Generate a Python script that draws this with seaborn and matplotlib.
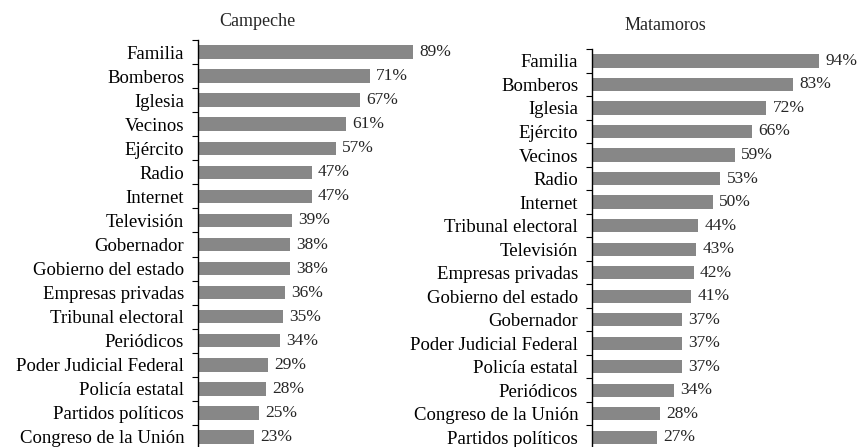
import pandas as pd
import numpy as np
import matplotlib.pyplot as plt
import seaborn as sns

# datos de confianza por ciudad
camp_labels = ['Familia', 'Bomberos', 'Iglesia', 'Vecinos', 'Ejército', 'Radio', 'Internet',
               'Televisión', 'Gobernador', 'Gobierno del estado', 'Empresas privadas',
               'Tribunal electoral', 'Periódicos', 'Poder Judicial Federal', 'Policía estatal',
               'Partidos políticos', 'Congreso de la Unión']
camp_values = [89, 71, 67, 61, 57, 47, 47, 39, 38, 38, 36, 35, 34, 29, 28, 25, 23]

mat_labels = ['Familia', 'Bomberos', 'Iglesia', 'Ejército', 'Vecinos', 'Radio', 'Internet',
              'Tribunal electoral', 'Televisión', 'Empresas privadas', 'Gobierno del estado',
              'Gobernador', 'Poder Judicial Federal', 'Policía estatal', 'Periódicos',
              'Congreso de la Unión', 'Partidos políticos']
mat_values = [94, 83, 72, 66, 59, 53, 50, 44, 43, 42, 41, 37, 37, 37, 34, 28, 27]

sns.set_style('white')
plt.rcParams['font.family'] = ['Liberation Serif', 'DejaVu Serif']

fig = plt.figure(figsize=(8.58, 4.47), dpi=100)
ax1 = fig.add_axes([0.2308, -0.0045, 0.282, 0.915])
ax2 = fig.add_axes([0.690, -0.0045, 0.282, 0.8945])

def draw(ax, labels, values):
    df = pd.DataFrame({'cat': labels, 'val': values})
    sns.barplot(data=df, x='val', y='cat', orient='h', color='#878787',
                saturation=1, width=0.56, linewidth=0, ax=ax)
    ax.set_xlim(0, 100)
    ax.set_ylim(len(labels) - 0.5, -0.5)
    ax.set_xlabel('')
    ax.set_ylabel('')
    ax.set_xticks([])
    for s in ['top', 'right', 'bottom']:
        ax.spines[s].set_visible(False)
    ax.spines['left'].set_color('black')
    ax.spines['left'].set_linewidth(1)
    ax.tick_params(axis='y', which='major', length=0, labelsize=13.5, pad=10, colors='black')
    ax.set_yticks(np.arange(len(labels) + 1) - 0.5, minor=True)
    ax.tick_params(axis='y', which='minor', left=True, length=4, width=0.8, color='black')
    for i, v in enumerate(values):
        ax.text(v + 2.6, i, f'{v}%', va='center', ha='left', fontsize=12.5)

draw(ax1, camp_labels, camp_values)
draw(ax2, mat_labels, mat_values)

fig.text(0.2995, 0.951, 'Campeche', ha='center', va='center', fontsize=13)
fig.text(0.775, 0.944, 'Matamoros', ha='center', va='center', fontsize=13)

fig.savefig('out.png', dpi=100)
